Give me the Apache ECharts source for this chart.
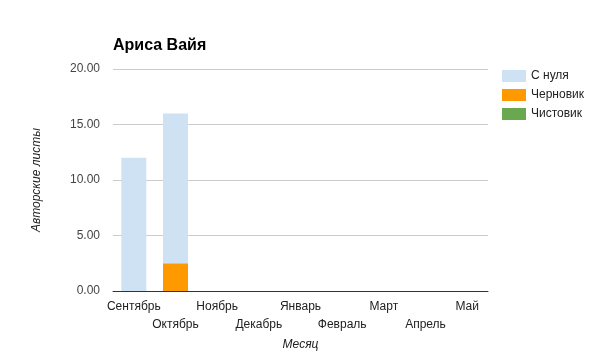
<!DOCTYPE html>
<html>
<head>
<meta charset="utf-8">
<script src="https://cdn.jsdelivr.net/npm/echarts@6/dist/echarts.min.js"></script>
<style>html,body{margin:0;padding:0;background:#fff}#c{width:600px;height:360px}</style>
</head>
<body>
<div id="c"></div>
<script>
var months = ['Сентябрь','Октябрь','Ноябрь','Декабрь','Январь','Февраль','Март','Апрель','Май'];
var scratch = [12, 13.5, 0, 0, 0, 0, 0, 0, 0];
var draft = [0, 2.5, 0, 0, 0, 0, 0, 0, 0];
var clean = [0, 0, 0, 0, 0, 0, 0, 0, 0];
var yTicks = [0, 5, 10, 15, 20];

var font = '"Liberation Sans", Arial, sans-serif';
var chart = echarts.init(document.getElementById('c'));
chart.setOption({
  animation: false,
  textStyle: {fontFamily: font},
  title: {
    text: 'Ариса Вайя', left: 108, top: 33,
    textStyle: {fontSize: 16, fontWeight: 'bold', color: '#000', fontFamily: font}
  },
  legend: {
    orient: 'vertical', left: 497, top: 65,
    icon: 'rect', itemWidth: 24, itemHeight: 12, itemGap: 7,
    data: ['С нуля', 'Черновик', 'Чистовик'],
    textStyle: {fontSize: 12, color: '#222', fontFamily: font}
  },
  grid: {left: 113, right: 112, top: 69, bottom: 69, containLabel: false},
  xAxis: {
    type: 'category', data: months,
    name: 'Месяц', nameLocation: 'middle', nameGap: 44,
    nameTextStyle: {fontStyle: 'italic', fontSize: 12, color: '#222', fontFamily: font},
    axisLine: {lineStyle: {color: '#333', width: 1}},
    axisTick: {show: false},
    axisLabel: {
      interval: 0, margin: 7, fontSize: 12, color: '#222', lineHeight: 18, fontFamily: font,
      formatter: function (v, i) { return i % 2 ? '\n' + v : v; }
    }
  },
  yAxis: {
    type: 'value', min: yTicks[0], max: yTicks[yTicks.length - 1], interval: 5,
    name: 'Авторские листы', nameLocation: 'middle', nameGap: 70,
    nameTextStyle: {fontStyle: 'italic', fontSize: 12, color: '#222', fontFamily: font},
    axisLine: {show: false}, axisTick: {show: false},
    axisLabel: {fontSize: 12, color: '#444', margin: 13, fontFamily: font,
      formatter: function (v) { return v.toFixed(2); }},
    splitLine: {lineStyle: {color: '#cccccc', width: 1}}
  },
  series: [
    {name: 'Черновик', type: 'bar', stack: 's', data: draft, barWidth: '60%',
      itemStyle: {color: '#ff9900'}},
    {name: 'С нуля', type: 'bar', stack: 's', data: scratch, barWidth: '60%',
      itemStyle: {color: '#cfe2f3'}},
    {name: 'Чистовик', type: 'bar', stack: 's', data: clean, barWidth: '60%',
      itemStyle: {color: '#6aa84f'}}
  ]
});
</script>
</body>
</html>
